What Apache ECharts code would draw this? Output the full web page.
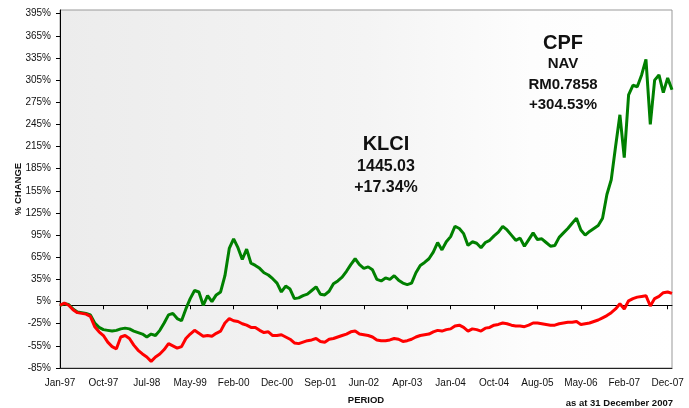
<!DOCTYPE html>
<html>
<head>
<meta charset="utf-8">
<script src="https://cdn.jsdelivr.net/npm/echarts@6/dist/echarts.min.js"></script>
<style>
  html, body { margin: 0; padding: 0; background: #fff; }
  #chart { width: 689px; height: 408px; }
</style>
</head>
<body>
<div id="chart"></div>
<script>
// x labels, one every 10 points
const tickLabels = ['Jan-97', 'Oct-97', 'Jul-98', 'May-99', 'Feb-00', 'Dec-00', 'Sep-01', 'Jun-02',
  'Apr-03', 'Jan-04', 'Oct-04', 'Aug-05', 'May-06', 'Feb-07', 'Dec-07'];

const yTicks = [-85, -55, -25, 5, 35, 65, 95, 125, 155, 185, 215, 245, 275, 305, 335, 365, 395];

// % change, CPF fund NAV (green)
const cpfNav = [
  0, 2, 1, -5, -9, -10, -11, -13, -24, -30,
  -33, -34, -35, -34, -32, -31, -32, -35, -37, -39,
  -43, -39, -41, -34, -24, -13, -11, -18, -21, -5,
  9, 20, 18, 0, 13, 5, 14, 18, 40, 77,
  90, 78, 62, 76, 57, 54, 50, 44, 41, 36,
  30, 18, 26, 22, 9, 10, 13, 15, 20, 25,
  15, 14, 19, 29, 33, 38, 46, 55, 63, 55,
  50, 52, 48, 35, 33, 37, 35, 40, 34, 30,
  28, 30, 44, 54, 58, 63, 72, 85, 75, 86,
  93, 107, 104, 97, 81, 86, 84, 78, 85, 88,
  94, 99, 107, 102, 95, 88, 91, 80, 89, 98,
  89, 90, 85, 80, 81, 92, 98, 104, 111, 118,
  102, 95, 100, 104, 108, 118, 150, 170, 215, 258,
  200, 285, 298, 296, 312, 333, 245, 305, 312, 288,
  308, 292
];

// % change, KLCI (red)
const klci = [
  0, 3, 0, -6, -10, -11, -12, -15, -29, -36,
  -41, -50, -56, -59, -43, -41, -45, -54, -61, -66,
  -70, -76, -70, -66, -60, -52, -55, -58, -56, -45,
  -39, -34, -38, -42, -41, -42, -38, -35, -24, -18,
  -21, -22, -25, -27, -30, -30, -34, -37, -36, -41,
  -41, -40, -43, -46, -51, -52, -50, -48, -47, -45,
  -49, -50, -46, -45, -43, -41, -39, -36, -35, -39,
  -40, -41, -43, -47, -48, -48, -47, -45, -46, -49,
  -48, -46, -43, -41, -40, -39, -36, -34, -35, -33,
  -32, -28, -27, -30, -35, -32, -33, -35, -31, -30,
  -27, -26, -24, -25, -27, -28, -28, -29, -27, -24,
  -24, -25, -26, -27, -27, -25, -24, -23, -23, -22,
  -26, -25, -24, -22, -20, -17, -14, -10, -5, 2,
  -5, 6, 9, 11, 12, 13, -1, 9, 12, 17,
  18, 16
];

const points = cpfNav.map((_, i) => i);
const FONT = '"Liberation Sans", Arial, sans-serif';
const TEXT = '#111';

const chart = echarts.init(document.getElementById('chart'));

function note(text, x, y, size) {
  return {
    type: 'text',
    x: x,
    y: y,
    style: {
      text: text,
      fill: TEXT,
      font: 'bold ' + size + 'px ' + FONT,
      textAlign: 'center',
      textVerticalAlign: 'middle'
    }
  };
}

const option = {
  animation: false,
  backgroundColor: '#fff',
  grid: {
    left: 60,
    right: 17,
    top: 10,
    bottom: 40,
    outerBoundsMode: 'none',
    show: true,
    borderColor: '#999',
    borderWidth: 1,
    backgroundColor: {
      type: 'linear', x: 0, y: 0, x2: 1, y2: 0,
      colorStops: [
        { offset: 0, color: '#ececec' },
        { offset: 0.5, color: '#f4f4f4' },
        { offset: 0.77, color: '#fdfdfd' },
        { offset: 1, color: '#ffffff' }
      ]
    }
  },
  xAxis: [
    {
      // axis crossing at 0%, ticks only
      type: 'category',
      data: points,
      boundaryGap: false,
      axisLine: { onZero: true, lineStyle: { color: '#000', width: 1 } },
      axisTick: { show: true, interval: 9, length: 4, lineStyle: { color: '#000' } },
      axisLabel: { show: false },
      splitLine: { show: false }
    },
    {
      // labels along the bottom
      type: 'category',
      data: points,
      position: 'bottom',
      boundaryGap: false,
      axisLine: { onZero: false, lineStyle: { color: '#222', width: 1 } },
      axisTick: { show: false },
      axisLabel: {
        interval: 9,
        margin: 10,
        color: TEXT,
        fontSize: 10,
        fontFamily: FONT,
        formatter: (v, i) => tickLabels[i / 10] || ''
      },
      name: 'PERIOD',
      nameLocation: 'middle',
      nameGap: 27,
      nameMoveOverlap: false,
      nameTextStyle: { color: TEXT, fontSize: 9.5, fontWeight: 'bold', fontFamily: FONT }
    }
  ],
  yAxis: {
    type: 'value',
    min: -85,
    max: 400,
    axisLine: { show: true, lineStyle: { color: '#000', width: 1 } },
    axisTick: { show: true, length: 4, customValues: yTicks, lineStyle: { color: '#000' } },
    axisLabel: {
      customValues: yTicks,
      margin: 9,
      color: TEXT,
      fontSize: 10,
      fontFamily: FONT,
      formatter: '{value}%'
    },
    splitLine: { show: false },
    name: '% CHANGE',
    nameLocation: 'middle',
    nameGap: 37,
    nameMoveOverlap: false,
    nameTextStyle: { color: TEXT, fontSize: 9.5, fontWeight: 'bold', fontFamily: FONT }
  },
  series: [
    {
      name: 'CPF NAV',
      type: 'line',
      xAxisIndex: 0,
      data: cpfNav,
      showSymbol: false,
      lineStyle: { color: '#008000', width: 3 },
      itemStyle: { color: '#008000' }
    },
    {
      name: 'KLCI',
      type: 'line',
      xAxisIndex: 0,
      data: klci,
      showSymbol: false,
      lineStyle: { color: '#ff0000', width: 3 },
      itemStyle: { color: '#ff0000' }
    }
  ],
  graphic: [
    note('CPF', 563, 43, 20),
    note('NAV', 563, 64, 15),
    note('RM0.7858', 563, 85, 15),
    note('+304.53%', 563, 105, 15),
    note('KLCI', 386, 144, 20),
    note('1445.03', 386, 167, 16),
    note('+17.34%', 386, 188, 16),
    {
      type: 'text',
      x: 673,
      y: 403,
      style: {
        text: 'as at 31 December 2007',
        fill: TEXT,
        font: 'bold 9.5px ' + FONT,
        textAlign: 'right',
        textVerticalAlign: 'middle'
      }
    }
  ]
};

chart.setOption(option);
</script>
</body>
</html>
